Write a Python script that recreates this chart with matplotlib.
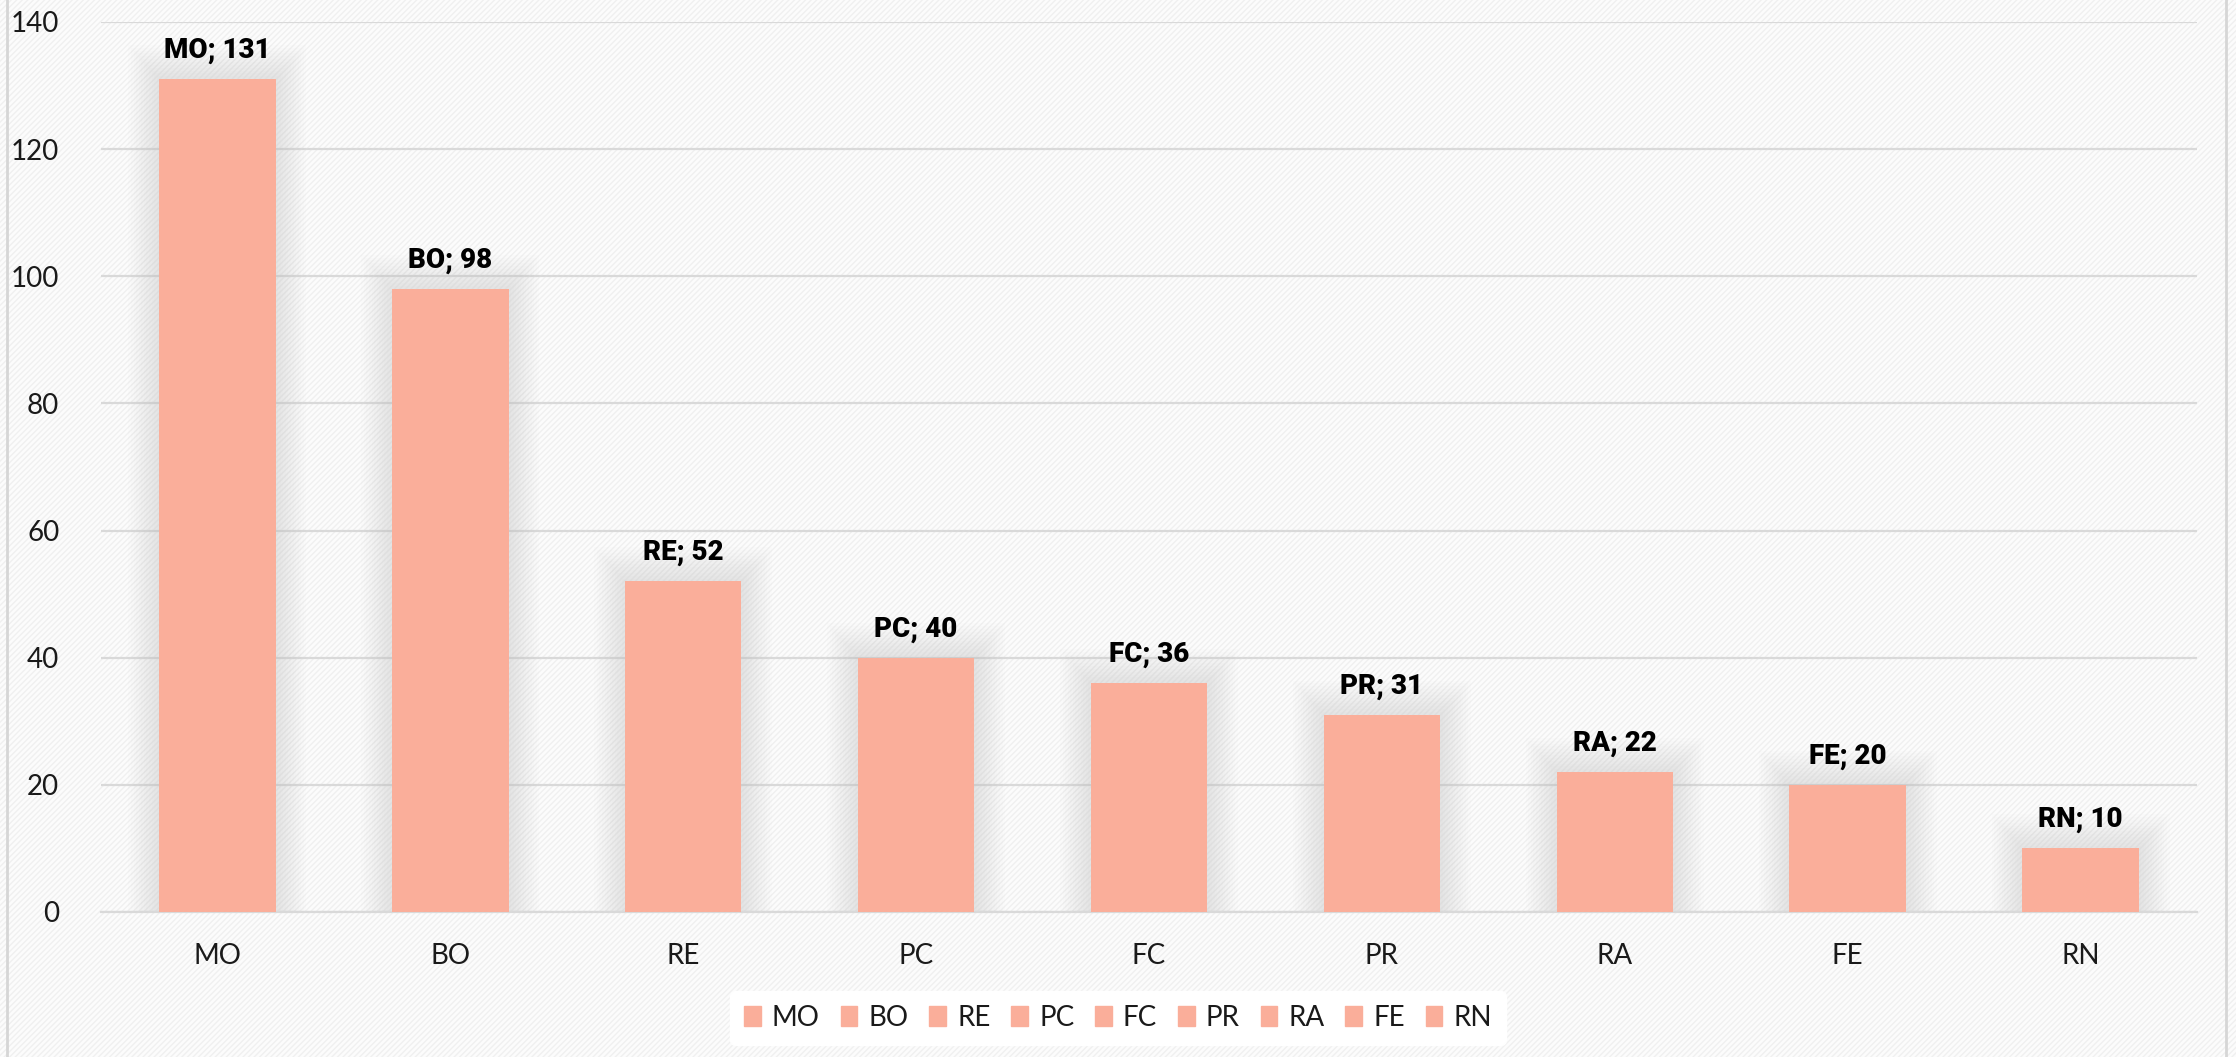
import matplotlib
matplotlib.use('Agg')
import matplotlib.pyplot as plt
from matplotlib.patches import Rectangle

# datos
categorias = ['MO', 'BO', 'RE', 'PC', 'FC', 'PR', 'RA', 'FE', 'RN']
valores = [131, 98, 52, 40, 36, 31, 22, 20, 10]

color_barra = '#FAAE9A'
plt.rcParams['font.family'] = ['Lato', 'DejaVu Sans']
plt.rcParams['hatch.linewidth'] = 1.0

fig = plt.figure(figsize=(22.36, 10.57), dpi=100)
fig.patch.set_facecolor('#fcfcfc')

# fondo rayado
fondo = Rectangle((0, 0), 1, 1, transform=fig.transFigure, facecolor='#fcfcfc',
                  edgecolor='#f0f0f0', hatch='//////', linewidth=0, zorder=-10)
fig.patches.append(fondo)
fig.add_artist(plt.Line2D([7 / 2236, 7 / 2236], [0, 1], color='#d6d6d6', lw=2))
fig.add_artist(plt.Line2D([2226 / 2236, 2226 / 2236], [0, 1], color='#d6d6d6', lw=2))

ax = fig.add_axes([101 / 2236, 1 - 912 / 1057, 2096 / 2236, 890 / 1057])
ax.patch.set_alpha(0)

x = list(range(len(categorias)))

# sombra suave de las barras
for k in range(1, 13):
    ax.bar(x, [v + k * 0.45 for v in valores], width=0.5 + k * 0.022,
           color='#b0b0b0', alpha=0.018, zorder=1, linewidth=0)

barras = ax.bar(x, valores, width=0.5, color=color_barra, zorder=3)

for xi, v, c in zip(x, valores, categorias):
    ax.text(xi, v + 4.5, f'{c}; {v}', ha='center', va='center', fontsize=20,
            fontweight=900, color='black', zorder=5,
            family=['Roboto', 'DejaVu Sans'])

ax.set_ylim(0, 140)
ax.set_xlim(-0.5, len(categorias) - 0.5)
ax.set_yticks(range(0, 141, 20))
ax.set_xticks(x)
ax.set_xticklabels(categorias)
ax.grid(axis='y', color='#d9d9d9', linewidth=1.6, zorder=0)
ax.set_axisbelow(True)
for s in ax.spines.values():
    s.set_visible(False)
ax.spines['bottom'].set_visible(True)
ax.spines['bottom'].set_color('#d9d9d9')
ax.spines['bottom'].set_linewidth(1.6)
ax.tick_params(axis='both', length=0, labelsize=20, colors='#1a1a1a')
ax.tick_params(axis='y', pad=30)
ax.tick_params(axis='x', pad=22)

# leyenda: una entrada por categoria
handles = [Rectangle((0, 0), 1, 1, color=color_barra) for _ in categorias]
leg = fig.legend(handles, categorias, loc='center', bbox_to_anchor=(1118 / 2236, 1 - 1018 / 1057),
                 ncol=len(categorias), frameon=True, fontsize=20, handlelength=0.6,
                 handleheight=0.75, handletextpad=0.4, columnspacing=0.75, borderpad=0.5,
                 borderaxespad=0)
leg.get_frame().set_facecolor('white')
leg.get_frame().set_edgecolor('white')
leg.get_frame().set_alpha(1)
for t in leg.get_texts():
    t.set_color('#1a1a1a')

fig.savefig('out.png', dpi=100, facecolor=fig.get_facecolor())
